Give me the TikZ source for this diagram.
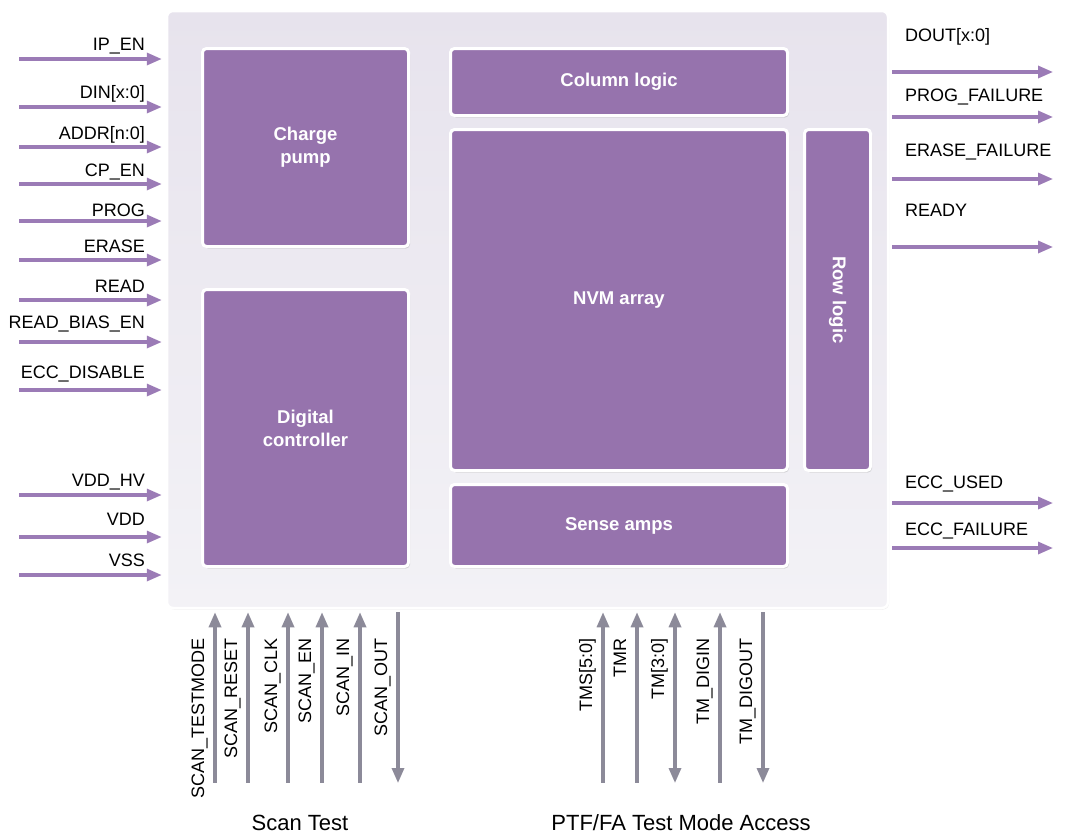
\documentclass[tikz,border=0pt]{standalone}
\usepackage{fontspec}
\usepackage{graphicx}
\setmainfont{Liberation Sans}
\usetikzlibrary{arrows.meta,shadows}

\definecolor{roxo}{RGB}{150,115,173}
\definecolor{roxoseta}{RGB}{155,123,182}
\definecolor{cinza}{RGB}{140,138,153}
\definecolor{fundoA}{RGB}{231,227,237}
\definecolor{fundoB}{RGB}{243,242,246}

\tikzset{
  caixa/.style={draw=white, line width=2.5pt, rounded corners=6pt, top color=fundoA, bottom color=fundoB,
    drop shadow={opacity=0.15, shadow xshift=1pt, shadow yshift=-1.5pt}},
  bloco/.style={draw=white, line width=3pt, fill=roxo, rounded corners=4pt, text=white, align=center,
    font=\bfseries\fontsize{18.5}{23}\selectfont, drop shadow={opacity=0.25, shadow xshift=1.5pt, shadow yshift=-2pt}},
  ponta/.tip={Triangle[length=15pt,width=12pt]},
  sinal/.style={roxoseta, line width=3.2pt, -ponta},
  teste/.style={cinza, line width=3.2pt},
  sobe/.style={ponta-},
  desce/.style={-ponta},
  ambos/.style={ponta-ponta},
  rotulo/.style={font=\fontsize{18}{21}\selectfont, inner sep=0pt},
}

\begin{document}
\begin{tikzpicture}[x=1pt,y=-1pt]
\useasboundingbox (0,0) rectangle (1076,839);

% caixa do chip
\node[caixa, minimum width=721pt, minimum height=597pt] (chip) at (527.5,309.5) {};

% blocos internos
\node[bloco, minimum width=206pt, minimum height=198pt] (bomba) at (305.5,147.5) {Charge\\pump};
\node[bloco, minimum width=206pt, minimum height=277pt] (controlador) at (305.5,428) {Digital\\controller};
\node[bloco, minimum width=337pt, minimum height=67pt] (coluna) at (619,82) {Column logic};
\node[bloco, minimum width=337pt, minimum height=341pt] (matriz) at (619,300) {NVM array};
\node[bloco, minimum width=66pt, minimum height=341pt] (linha) at (837.5,300) {\rotatebox{-90}{Row logic}};
\node[bloco, minimum width=337pt, minimum height=82pt] (sentido) at (619,525.5) {Sense amps};

% entradas (lado esquerdo)
\foreach \y/\b/\nome [count=\i] in {59/50/IP\_EN, 107/98/DIN[x:0], 147/139/ADDR[n:0], 184/176/CP\_EN,
    221/216/PROG, 260/252/ERASE, 300/292/READ, 342/328/READ\_BIAS\_EN, 390/378/ECC\_DISABLE,
    495/486/VDD\_HV, 537/525/VDD, 575/566/VSS}{
  \coordinate (e\i) at (19,\y);
  \draw[sinal, shorten >=4pt] (e\i) -- (e\i -| chip.west);
  \node[rotulo, anchor=base east] (le\i) at (145,\b) {\nome};
}

% saidas (lado direito)
\foreach \y/\b/\nome [count=\i] in {72/41/DOUT[x:0], 117/101/PROG\_FAILURE, 179/156/ERASE\_FAILURE,
    247/216/READY, 503/488/ECC\_USED, 548/535/ECC\_FAILURE}{
  \coordinate (s\i) at (1053,\y);
  \draw[sinal, shorten <=3pt] (s\i -| chip.east) -- (s\i);
  \node[rotulo, anchor=base west] (ls\i) at (905,\b) {\nome};
}

% sinais de teste (embaixo)
\foreach \x/\nome/\tipo [count=\i] in {215/SCAN\_TESTMODE/sobe, 248/SCAN\_RESET/sobe, 288/SCAN\_CLK/sobe,
    322/SCAN\_EN/sobe, 360/SCAN\_IN/sobe, 398/SCAN\_OUT/desce, 603/TMS[5:0]/sobe, 637/TMR/sobe,
    675/TM[3:0]/ambos, 720/TM\_DIGIN/sobe, 763/TM\_DIGOUT/desce}{
  \coordinate (b\i) at (\x,783);
  \draw[teste, \tipo, shorten <=3pt] (b\i |- chip.south) -- (b\i);
  \node[rotulo, rotate=90, anchor=base east] (lb\i) at (\x-11,638) {\nome};
}

\node[font=\fontsize{22}{26}\selectfont, anchor=base] (scan) at (300,830) {Scan Test};
\node[font=\fontsize{22}{26}\selectfont, anchor=base] (ptf) at (681,830) {PTF/FA Test Mode Access};
\end{tikzpicture}
\end{document}
